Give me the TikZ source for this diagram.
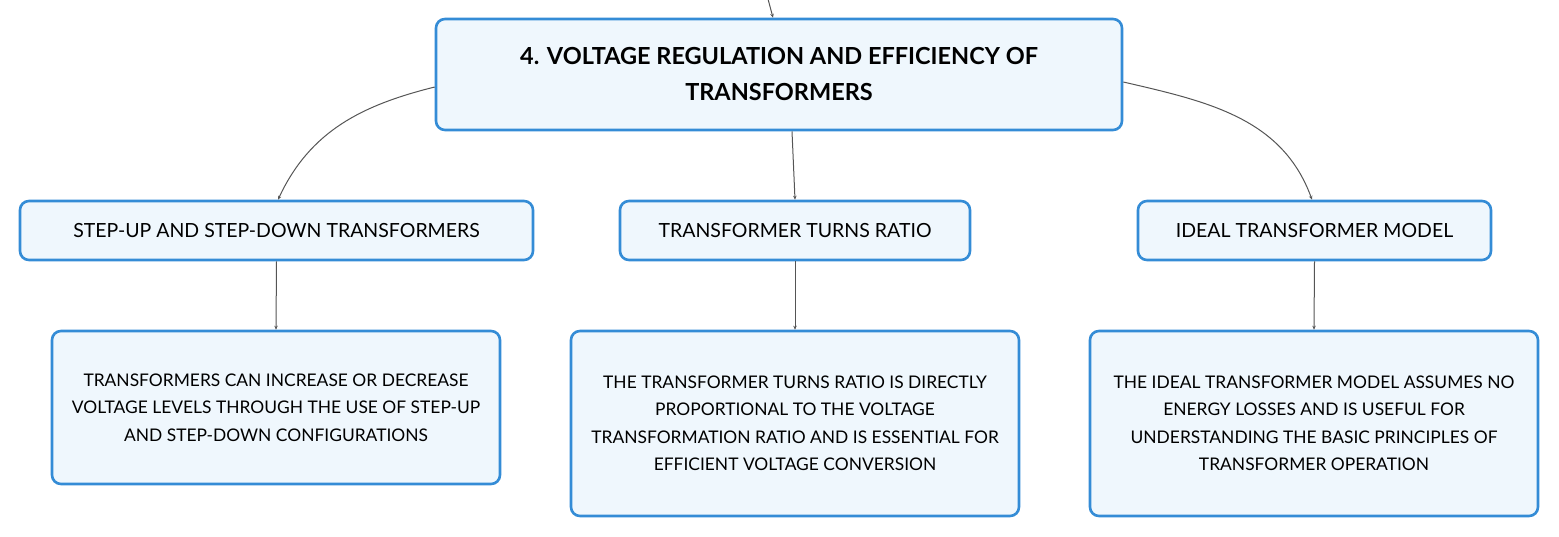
\documentclass[tikz,border=0pt]{standalone}
\usepackage{fontspec}
\setmainfont{Lato}
\usetikzlibrary{arrows.meta}
\definecolor{boxborder}{RGB}{52,140,214}
\definecolor{boxfill}{RGB}{239,247,253}
\definecolor{linegray}{RGB}{85,85,85}
\tikzset{
  box/.style={draw=boxborder, fill=boxfill, line width=2.6pt, rounded corners=9pt, align=center, inner sep=0pt},
  conn/.style={draw=linegray, line width=1pt, -{Stealth[length=4pt,width=3.5pt]}},
  titletext/.style={font=\fontsize{23.5}{36}\selectfont\bfseries},
  subtext/.style={font=\fontsize{19.5}{22}\selectfont},
  bodytext/.style={font=\fontsize{17.4}{27.5}\selectfont},
}
\begin{document}
\begin{tikzpicture}[x=1pt,y=-1pt]
\useasboundingbox (0,0) rectangle (1559,537);
\node[box, titletext, minimum width=686pt, minimum height=111pt] (main) at (779,74.5) {4. VOLTAGE REGULATION AND EFFICIENCY OF\\TRANSFORMERS};
\node[box, subtext, minimum width=513pt, minimum height=59pt] (A) at (276.5,230.5) {STEP-UP AND STEP-DOWN TRANSFORMERS};
\node[box, subtext, minimum width=350pt, minimum height=59pt] (B) at (795,230.5) {TRANSFORMER TURNS RATIO};
\node[box, subtext, minimum width=353pt, minimum height=59pt] (C) at (1314.5,230.5) {IDEAL TRANSFORMER MODEL};
\node[box, bodytext, minimum width=448pt, minimum height=153pt] (A2) at (276,407.5) {TRANSFORMERS CAN INCREASE OR DECREASE\\VOLTAGE LEVELS THROUGH THE USE OF STEP-UP\\AND STEP-DOWN CONFIGURATIONS};
\node[box, bodytext, minimum width=448pt, minimum height=185pt] (B2) at (795,423.5) {THE TRANSFORMER TURNS RATIO IS DIRECTLY\\PROPORTIONAL TO THE VOLTAGE\\TRANSFORMATION RATIO AND IS ESSENTIAL FOR\\EFFICIENT VOLTAGE CONVERSION};
\node[box, bodytext, minimum width=448pt, minimum height=185pt] (C2) at (1314,423.5) {THE IDEAL TRANSFORMER MODEL ASSUMES NO\\ENERGY LOSSES AND IS USEFUL FOR\\UNDERSTANDING THE BASIC PRINCIPLES OF\\TRANSFORMER OPERATION};
\coordinate (top) at (768,-1);
\draw[conn] (top) -- ([xshift=-6pt]main.north);
\draw[conn] ([yshift=-12.5pt]main.west) to[out=194,in=65] ([xshift=1.5pt]A.north);
\draw[conn] ([xshift=13pt]main.south) -- (B.north);
\draw[conn] ([yshift=-7.5pt]main.east) to[out=-13,in=110] ([xshift=-2.5pt]C.north);
\draw[conn] (A.south) -- (A2.north);
\draw[conn] (B.south) -- (B2.north);
\draw[conn] (C.south) -- (C2.north);
\end{tikzpicture}
\end{document}
